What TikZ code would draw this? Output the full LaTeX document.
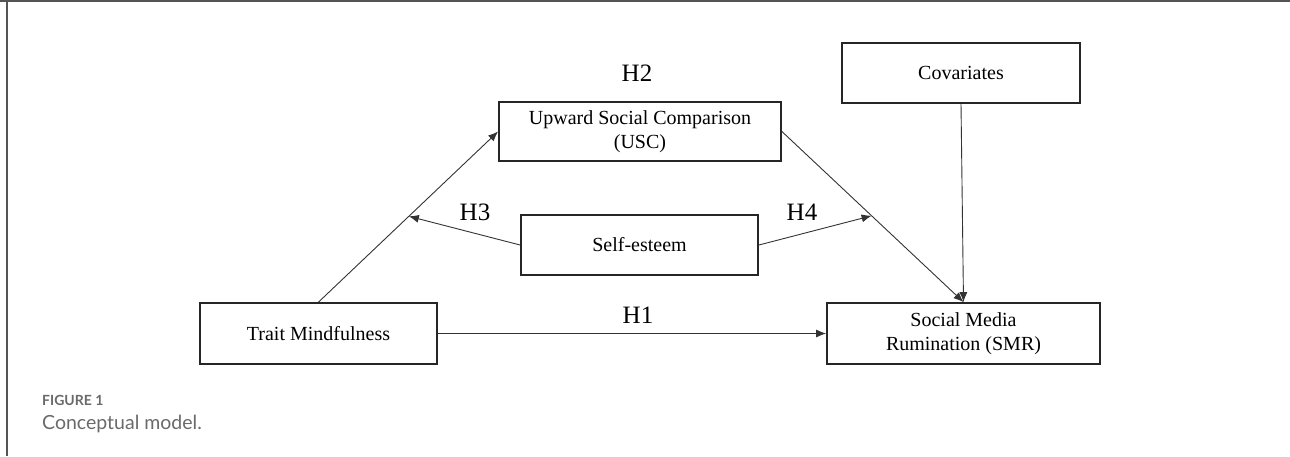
\documentclass[tikz,border=0pt]{standalone}
\usepackage{fontspec}
\setmainfont{Liberation Serif}
\newfontfamily\capfont{Lato}
\usetikzlibrary{arrows.meta,calc}
\definecolor{capgray}{HTML}{6A6A6A}
\definecolor{framegray}{HTML}{555555}
\tikzset{
  box/.style={draw=black!85, line width=1.8pt, minimum width=#1, inner sep=0pt, align=center, font=\fontsize{20}{24}\selectfont},
  conn/.style={draw=black!80, line width=0.9pt, -{Latex[length=10pt,width=8pt]}},
  hlab/.style={font=\fontsize{25}{28}\selectfont},
}
\begin{document}
\begin{tikzpicture}[x=1pt,y=-1pt]
\useasboundingbox (0,0) rectangle (1290,456);
\draw[framegray, line width=1.5pt] (0,1) -- (1290,1);
\draw[framegray, line width=1.5pt] (7,0) -- (7,456);

\node[box=237pt, minimum height=61pt] (TM) at (318.5,333.5) {Trait Mindfulness};
\node[box=282pt, minimum height=59pt] (USC) at (640,131.5) {Upward Social Comparison\\(USC)};
\node[box=237pt, minimum height=60pt] (SE) at (639.5,245) {Self-esteem};
\node[box=238pt, minimum height=60pt] (COV) at (961,73) {Covariates};
\node[box=273pt, minimum height=61pt] (SMR) at (963.5,333.5) {Social Media\\Rumination (SMR)};

\coordinate (m3) at ($(TM.north)!0.503!(USC.west)$);
\coordinate (m4) at ($(USC.east)!0.494!(SMR.north)$);

\draw[conn] (TM.north) -- (USC.west);
\draw[draw=black!80, line width=0.9pt] (USC.east) -- (m4);
\draw[conn] (m4) -- (SMR.north);
\draw[conn] (SE.west) -- (m3);
\draw[conn] (SE.east) -- (m4);
\draw[conn] (COV.south) -- (SMR.north);
\draw[conn] (TM.east) -- (SMR.west);

\node[hlab] (H2) at (637,73) {H2};
\node[hlab] (H3) at (475,212) {H3};
\node[hlab] (H4) at (802,212) {H4};
\node[hlab] (H1) at (638,315) {H1};

\node[anchor=base west, inner sep=0pt, text=capgray, font=\capfont\bfseries\fontsize{14}{16}\selectfont] (fig) at (42,405) {FIGURE 1};
\node[anchor=base west, inner sep=0pt, text=capgray, font=\capfont\fontsize{19.5}{22}\selectfont] (cap) at (42,429) {Conceptual model.};
\end{tikzpicture}
\end{document}
